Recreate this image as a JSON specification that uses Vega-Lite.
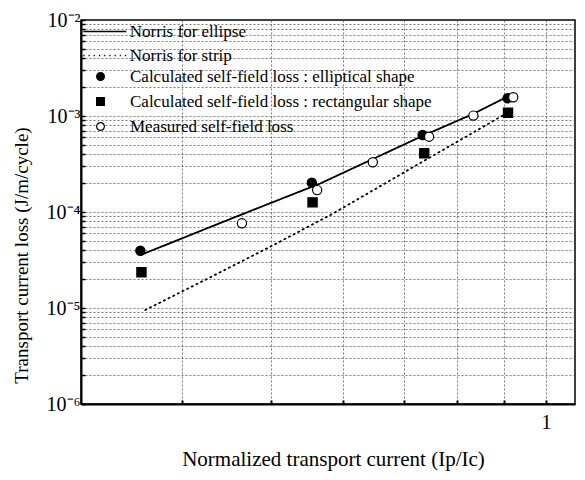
{
  "$schema": "https://vega.github.io/schema/vega-lite/v6.json",
  "width": 494,
  "height": 384,
  "autosize": {"type": "none"},
  "padding": {"left": 81, "top": 20, "right": 10, "bottom": 76},
  "background": "white",
  "config": {
    "view": {"stroke": "black", "strokeWidth": 1.5},
    "font": "Liberation Serif",
    "axis": {
      "domainColor": "black",
      "domainWidth": 2,
      "tickColor": "black",
      "gridColor": "#444444",
      "gridDash": [2, 2],
      "gridWidth": 0.7,
      "labelColor": "black",
      "titleColor": "black",
      "labelFont": "Liberation Serif",
      "titleFont": "Liberation Serif",
      "titleFontWeight": "normal"
    }
  },
  "datasets": {
    "lines": [
      {"series": "Norris for ellipse", "x": 0.3614, "y": 3.61e-5},
      {"series": "Norris for ellipse", "x": 0.4515, "y": 8.45e-5},
      {"series": "Norris for ellipse", "x": 0.5662, "y": 1.98e-4},
      {"series": "Norris for ellipse", "x": 0.7284, "y": 6.04e-4},
      {"series": "Norris for ellipse", "x": 0.8323, "y": 1.05e-3},
      {"series": "Norris for ellipse", "x": 0.9157, "y": 1.66e-3},
      {"series": "Norris for strip", "x": 0.3645, "y": 9.53e-6},
      {"series": "Norris for strip", "x": 0.4294, "y": 2.09e-5},
      {"series": "Norris for strip", "x": 0.5035, "y": 4.53e-5},
      {"series": "Norris for strip", "x": 0.5855, "y": 9.69e-5},
      {"series": "Norris for strip", "x": 0.7224, "y": 3.09e-4},
      {"series": "Norris for strip", "x": 0.812, "y": 5.86e-4},
      {"series": "Norris for strip", "x": 0.906, "y": 1.07e-3}
    ],
    "points": [
      {"series": "Calculated self-field loss : elliptical shape", "x": 0.360, "y": 3.95e-5},
      {"series": "Calculated self-field loss : elliptical shape", "x": 0.5545, "y": 2.02e-4},
      {"series": "Calculated self-field loss : elliptical shape", "x": 0.733, "y": 6.34e-4},
      {"series": "Calculated self-field loss : elliptical shape", "x": 0.908, "y": 1.53e-3},
      {"series": "Calculated self-field loss : rectangular shape", "x": 0.361, "y": 2.36e-5},
      {"series": "Calculated self-field loss : rectangular shape", "x": 0.5555, "y": 1.26e-4},
      {"series": "Calculated self-field loss : rectangular shape", "x": 0.736, "y": 4.09e-4},
      {"series": "Calculated self-field loss : rectangular shape", "x": 0.909, "y": 1.08e-3},
      {"series": "Measured self-field loss", "x": 0.465, "y": 7.62e-5},
      {"series": "Measured self-field loss", "x": 0.562, "y": 1.69e-4},
      {"series": "Measured self-field loss", "x": 0.6466, "y": 3.30e-4},
      {"series": "Measured self-field loss", "x": 0.745, "y": 6.09e-4},
      {"series": "Measured self-field loss", "x": 0.833, "y": 1.01e-3},
      {"series": "Measured self-field loss", "x": 0.921, "y": 1.57e-3}
    ]
  },
  "encoding": {
    "x": {
      "field": "x",
      "type": "quantitative",
      "scale": {"type": "log", "domain": [0.31, 1.076], "nice": false},
      "axis": {
        "values": [0.4, 0.5, 0.6, 0.7, 0.8, 0.9, 1.0],
        "labelExpr": "datum.value == 1 ? '1' : ''",
        "labelFontSize": 20,
        "labelPadding": 12,
        "tickSize": -4,
        "tickWidth": 2,
        "grid": true,
        "title": "Normalized transport current (Ip/Ic)",
        "titleFontSize": 21,
        "titleX": 252,
        "titleY": 61,
        "titleBaseline": "alphabetic"
      }
    },
    "y": {
      "field": "y",
      "type": "quantitative",
      "scale": {"type": "log", "domain": [1e-6, 1e-2], "nice": false},
      "axis": {
        "values": [1e-6, 2e-6, 3e-6, 4e-6, 5e-6, 6e-6, 7e-6, 8e-6, 9e-6, 1e-5, 2e-5, 3e-5, 4e-5, 5e-5, 6e-5, 7e-5, 8e-5, 9e-5, 1e-4, 2e-4, 3e-4, 4e-4, 5e-4, 6e-4, 7e-4, 8e-4, 9e-4, 1e-3, 2e-3, 3e-3, 4e-3, 5e-3, 6e-3, 7e-3, 8e-3, 9e-3, 1e-2],
        "labelExpr": "datum.value == 1e-2 ? '10⁻²' : datum.value == 1e-3 ? '10⁻³' : datum.value == 1e-4 ? '10⁻⁴' : datum.value == 1e-5 ? '10⁻⁵' : datum.value == 1e-6 ? '10⁻⁶' : ''",
        "labelFontSize": 20,
        "labelPadding": 5,
        "tickSize": -4,
        "tickWidth": 1.5,
        "grid": true,
        "title": "Transport current loss (J/m/cycle)",
        "titleFontSize": 19,
        "titleX": -60,
        "titleY": 235,
        "titleAngle": -90,
        "titleAlign": "center",
        "titleBaseline": "middle"
      }
    }
  },
  "layer": [
    {
      "data": {"name": "lines"},
      "mark": {"type": "line", "color": "black", "strokeWidth": 1.8, "strokeCap": "round"},
      "encoding": {
        "strokeDash": {
          "field": "series",
          "type": "nominal",
          "scale": {"domain": ["Norris for ellipse", "Norris for strip"], "range": [[1, 0], [1.2, 4]]},
          "legend": {
            "orient": "none",
            "legendX": 15.3,
            "legendY": 3,
            "title": null,
            "symbolType": "M-3,0H3",
            "symbolSize": 205,
            "symbolStrokeWidth": 1.6,
            "symbolStrokeColor": "black",
            "labelFont": "Liberation Serif",
            "labelFontSize": 17,
            "labelColor": "black",
            "labelOffset": 16.5,
            "labelLimit": 0,
            "rowPadding": 6
          }
        }
      }
    },
    {
      "data": {"name": "points"},
      "mark": {"type": "point", "filled": true, "size": 85, "stroke": "black", "strokeWidth": 1.2, "opacity": 1},
      "encoding": {
        "shape": {
          "field": "series",
          "type": "nominal",
          "scale": {"domain": ["Calculated self-field loss : elliptical shape", "Calculated self-field loss : rectangular shape", "Measured self-field loss"], "range": ["circle", "square", "circle"]},
          "legend": {
            "orient": "none",
            "legendX": 11,
            "legendY": 48,
            "title": null,
            "symbolSize": 60,
            "symbolStrokeColor": "black",
            "symbolStrokeWidth": 1.2,
            "symbolOpacity": 1,
            "labelFont": "Liberation Serif",
            "labelFontSize": 17,
            "labelColor": "black",
            "labelOffset": 21,
            "labelLimit": 0,
            "rowPadding": 7,
            "encode": {"symbols": {"update": {"stroke": {"value": "black"}, "strokeWidth": {"value": 1.2}}}}
          }
        },
        "fill": {
          "field": "series",
          "type": "nominal",
          "scale": {"domain": ["Calculated self-field loss : elliptical shape", "Calculated self-field loss : rectangular shape", "Measured self-field loss"], "range": ["black", "black", "white"]},
          "legend": {
            "orient": "none",
            "legendX": 11,
            "legendY": 48,
            "title": null,
            "symbolSize": 60,
            "symbolStrokeColor": "black",
            "symbolStrokeWidth": 1.2,
            "symbolOpacity": 1,
            "labelFont": "Liberation Serif",
            "labelFontSize": 17,
            "labelColor": "black",
            "labelOffset": 21,
            "labelLimit": 0,
            "rowPadding": 7,
            "encode": {"symbols": {"update": {"stroke": {"value": "black"}, "strokeWidth": {"value": 1.2}}}}
          }
        }
      }
    }
  ]
}
